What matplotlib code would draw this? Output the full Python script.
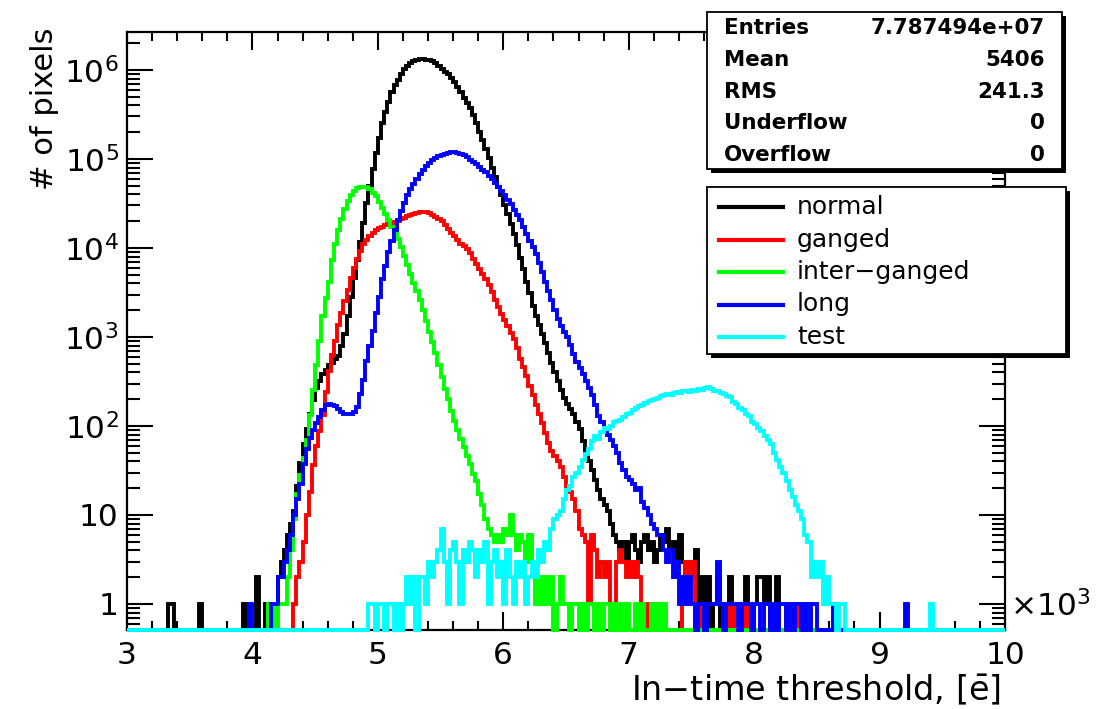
import numpy as np
import matplotlib
matplotlib.use('Agg')
import matplotlib.pyplot as plt
from matplotlib.patches import Rectangle
from matplotlib.lines import Line2D
from matplotlib.ticker import FixedLocator, MultipleLocator, LogLocator, NullFormatter

plt.rcParams['font.family'] = 'DejaVu Sans'
plt.rcParams['mathtext.fontset'] = 'dejavusans'

# histogram binning (in electrons)
bin_lo, bin_hi, bin_w = 3000, 10000, 25
y_min, y_max = 0.51, 2.67e6

# counts per 25 e bin; list starts at *_start
normal_start = 4150
normal_counts = [1, 1, 2, 3, 4, 6, 8, 11, 21, 38, 63, 93, 138, 195, 269, 324, 380, 427, 479, 513,
                 562, 617, 794, 1070, 1740, 2820, 4570, 7410, 11700, 19000, 31600, 50100, 77600,
                 117000, 174000, 251000, 339000, 437000, 562000, 676000, 776000, 891000, 1020000,
                 1120000, 1200000, 1260000, 1300000, 1320000, 1320000, 1310000, 1290000, 1260000,
                 1200000, 1120000, 1020000, 955000, 891000, 813000, 724000, 646000, 562000, 490000,
                 427000, 372000, 309000, 251000, 200000, 162000, 129000, 102000, 79400, 63100, 49000,
                 38900, 30200, 24000, 18600, 14500, 10700, 7760, 5750, 4170, 3090, 2240, 1740, 1350,
                 1070, 851, 661, 513, 407, 316, 251, 204, 178, 155, 135, 112, 93, 68, 50, 40, 32, 25,
                 19, 15, 13, 11, 8, 6, 5, 4, 5, 3, 5, 6, 4, 3, 5, 6, 4, 5, 3, 4, 6, 5, 7, 4, 5, 3, 6,
                 3, 2, 3, 2, 4, 1, 2, 1, 2, 0, 1, 2, 0, 1, 0, 2, 1, 0, 1, 0, 2, 1, 0, 1, 2, 2, 1, 2,
                 0, 1, 2, 0, 0, 1, 0, 0, 1, 0, 1, 0, 1]
normal_extra_e = [3325, 3350, 3575, 3925, 4025, 4100, 4125]
normal_extra_n = [1, 1, 1, 1, 2, 1, 1]

ganged_start = 4325
ganged_counts = [1, 2, 3, 5, 10, 18, 36, 59, 87, 132, 240, 417, 631, 891, 1350, 1860, 2510, 3390,
                 4570, 5890, 7590, 9330, 11000, 12300, 13800, 14800, 15800, 16600, 17400, 18200,
                 18600, 19100, 19500, 20000, 20900, 21900, 22900, 23400, 24000, 24500, 25100, 25100,
                 25100, 24500, 23400, 22400, 21400, 20000, 18200, 16200, 14800, 13500, 12300, 11200,
                 10500, 9770, 8710, 7590, 6610, 5750, 5130, 4470, 3800, 3160, 2630, 2190, 1820, 1550,
                 1320, 1120, 955, 759, 562, 457, 363, 282, 224, 174, 135, 107, 83, 65, 52, 46, 40, 35,
                 27, 21, 18, 15, 11, 7, 6, 5, 1, 6, 4, 2, 3, 2, 3, 1, 0, 3, 4, 3, 2, 3, 2, 3, 2, 1,
                 0, 1, 0, 1]
ganged_extra_e = [7425, 7450, 7475, 7500, 7550, 7800, 7850, 7925, 8250, 8275, 8325]
ganged_extra_n = [2, 3, 2, 3, 1, 1, 1, 1, 1, 1, 1]

inter_start = 4125
inter_counts = [1, 1, 0, 1, 1, 1, 2, 4, 9, 17, 28, 44, 69, 132, 251, 490, 912, 1700, 2750, 4170,
                7410, 11200, 15800, 21400, 27500, 33900, 39800, 43700, 46800, 49000, 49000, 47900,
                45700, 41700, 38000, 33100, 28200, 24000, 20400, 17400, 14800, 12600, 10200, 8130,
                6460, 5130, 4070, 3310, 2570, 2000, 1510, 1150, 871, 661, 479, 355, 263, 200, 148,
                115, 91, 72, 58, 46, 37, 29, 24, 17, 13, 9, 7, 6, 5, 6, 5, 7, 6, 10, 6, 4, 6, 5, 3,
                6, 3, 1, 2, 1, 2, 1, 2, 0, 1, 2, 1, 1, 0, 1, 1, 0, 1, 0, 1, 1, 0, 1, 0, 1, 1, 0, 1,
                0, 1, 0, 1, 0, 0, 1, 0, 1, 0, 0, 1, 0, 1, 0, 1]
inter_extra_e = [8425]
inter_extra_n = [1]

long_start = 4150
long_counts = [1, 1, 2, 2, 3, 4, 6, 10, 15, 22, 37, 55, 74, 89, 107, 126, 151, 170, 178, 174, 166,
               155, 145, 138, 138, 138, 145, 162, 229, 331, 537, 794, 1170, 1860, 2820, 4470, 6310,
               8910, 12000, 15800, 20400, 25700, 32400, 38900, 45700, 52500, 60300, 67600, 75900,
               83200, 91200, 97700, 102000, 107000, 112000, 115000, 117000, 120000, 120000, 117000,
               115000, 110000, 105000, 97700, 93300, 87100, 81300, 75900, 70800, 64600, 58900,
               53700, 49000, 43700, 38900, 34700, 30900, 26900, 23400, 20400, 17400, 14500, 12000,
               10200, 8510, 6760, 5370, 4170, 3310, 2570, 2000, 1580, 1320, 1150, 1000, 813, 646,
               525, 447, 380, 324, 269, 224, 174, 129, 110, 93, 79, 69, 59, 50, 38, 32, 27, 25, 22,
               19, 20, 14, 12, 10, 8, 7, 6, 6, 4, 3, 4, 2, 3, 1, 2, 1, 2, 1, 0, 1, 1, 0, 1, 1, 1,
               3, 1, 0, 1, 1, 1, 1, 0, 1, 1, 1, 0, 1, 1, 0, 1, 1, 0, 1, 0, 1, 1, 0, 1, 0, 1, 1, 0,
               1, 0, 1, 1]
long_extra_e = [3975, 8625, 9200]
long_extra_n = [1, 1, 1]

test_start = 4925
test_counts = [1, 1, 0, 1, 1, 0, 1, 1, 0, 1, 0, 1, 2, 1, 2, 0, 2, 2, 1, 3, 2, 3, 4, 7, 3, 1, 4, 5,
               3, 1, 4, 3, 5, 4, 2, 4, 3, 5, 1, 3, 4, 2, 3, 1, 4, 2, 1, 3, 2, 3, 1, 2, 3, 2, 4, 3,
               5, 4, 7, 9, 10, 11, 15, 19, 21, 27, 30, 35, 42, 48, 55, 68, 78, 72, 85, 95, 92, 100,
               110, 115, 118, 125, 135, 140, 150, 160, 168, 172, 180, 190, 195, 200, 205, 215, 220,
               230, 225, 235, 240, 235, 245, 250, 240, 255, 250, 260, 255, 270, 275, 260, 250, 245,
               235, 230, 215, 210, 185, 175, 160, 150, 135, 130, 112, 105, 95, 88, 78, 70, 62, 50,
               42, 35, 30, 24, 19, 16, 13, 11, 9, 6, 5, 2, 3, 2, 3, 1, 2, 1, 1, 0, 1, 1]
test_extra_e = [9400]
test_extra_n = [1]

names = ['normal', 'ganged', 'inter\u2212ganged', 'long', 'test']
colors = ['#000000', '#ff0000', '#00ff00', '#0000ff', '#00ffff']

stat_names = ['Entries', 'Mean', 'RMS', 'Underflow', 'Overflow']
stat_values = ['7.787494e+07', '5406', '241.3', '0', '0']

edges = np.arange(bin_lo, bin_hi + bin_w, bin_w)


def fill(start, counts, extra_e, extra_n):
    h = np.zeros(len(edges) - 1)
    i0 = (start - bin_lo) // bin_w
    h[i0:i0 + len(counts)] = counts
    for e, n in zip(extra_e, extra_n):
        h[(e - bin_lo) // bin_w] = n
    return h


hists = [fill(normal_start, normal_counts, normal_extra_e, normal_extra_n),
         fill(ganged_start, ganged_counts, ganged_extra_e, ganged_extra_n),
         fill(inter_start, inter_counts, inter_extra_e, inter_extra_n),
         fill(long_start, long_counts, long_extra_e, long_extra_n),
         fill(test_start, test_counts, test_extra_e, test_extra_n)]

W, H = 1096, 709
fig = plt.figure(figsize=(W / 100, H / 100), dpi=100)
ax = fig.add_axes([127 / W, 1 - 630 / H, 878 / W, 598 / H])

for h, c in zip(hists, colors):
    # empty bins are drawn on the frame bottom, like ROOT does on log scale
    v = np.where(h > 0, h, y_min)
    ax.stairs(v, edges, baseline=None, color=c, lw=2.8, clip_on=False, zorder=3)

ax.set_yscale('log')
ax.set_xlim(bin_lo, bin_hi)
ax.set_ylim(y_min, y_max)

ax.xaxis.set_major_locator(FixedLocator(np.arange(3000, 10001, 1000)))
ax.set_xticklabels([str(i) for i in range(3, 11)])
ax.xaxis.set_minor_locator(MultipleLocator(200))

ax.yaxis.set_major_locator(FixedLocator([1, 10, 1e2, 1e3, 1e4, 1e5, 1e6]))
ax.set_yticklabels(['1', '10', '$10^{2}$', '$10^{3}$', '$10^{4}$', '$10^{5}$', '$10^{6}$'])
ax.yaxis.set_minor_locator(LogLocator(base=10, subs=np.arange(2, 10), numticks=30))
ax.yaxis.set_minor_formatter(NullFormatter())

ax.tick_params(which='both', direction='in', top=True, right=True, width=1.5, labelsize=22.5)
ax.tick_params(axis='x', which='major', length=13, pad=8)
ax.tick_params(axis='x', which='minor', length=6.5)
ax.tick_params(axis='y', which='major', length=18.5, pad=6)
ax.tick_params(axis='y', which='minor', length=9.3)
for s in ax.spines.values():
    s.set_linewidth(1.6)

fig.text(1010 / W, 1 - 606 / H, '\u00d710$^{3}$', fontsize=22.5, ha='left', va='center')
fig.text(1001 / W, 1 - 690 / H, 'In\u2212time threshold, [$\\bar{\\mathrm{e}}$]', fontsize=24,
         ha='right', va='center')
fig.text(45 / W, 1 - 28 / H, '# of pixels', fontsize=22, rotation=90, ha='center', va='top')


def box(x0, y0, x1, y1):
    # white pave with a ROOT-style drop shadow (pixel coordinates)
    fig.patches.append(Rectangle((x0 / W + 4 / W, 1 - (y1 + 4) / H), (x1 - x0) / W, (y1 - y0) / H,
                                 transform=fig.transFigure, facecolor='black', edgecolor='none',
                                 zorder=5))
    fig.patches.append(Rectangle((x0 / W, 1 - y1 / H), (x1 - x0) / W, (y1 - y0) / H,
                                 transform=fig.transFigure, facecolor='white', edgecolor='black',
                                 lw=1.3, zorder=6))


# statistics box
box(707, 12, 1062, 169)
for i, (n, v) in enumerate(zip(stat_names, stat_values)):
    yy = 1 - (28 + i * 31.8) / H
    fig.text(724 / W, yy, n, fontsize=15.4, fontweight='bold', ha='left', va='center', zorder=7)
    fig.text(1045 / W, yy, v, fontsize=15.4, fontweight='bold', ha='right', va='center', zorder=7)

# legend
box(707, 187, 1066, 354)
for i, (n, c) in enumerate(zip(names, colors)):
    yy = 1 - (207 + i * 32.5) / H
    fig.lines.append(Line2D([719 / W, 783 / W], [yy, yy], transform=fig.transFigure, color=c,
                            lw=3, zorder=7))
    fig.text(797 / W, yy, n, fontsize=18, ha='left', va='center', zorder=7)

fig.savefig('out.png', dpi=100)
